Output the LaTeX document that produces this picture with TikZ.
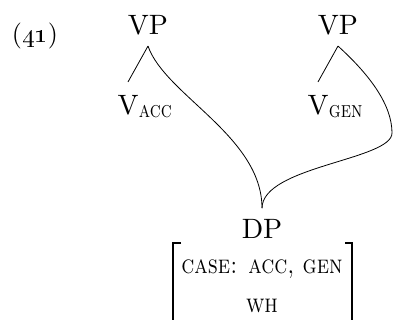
\documentclass[tikz,border=0pt]{standalone}
\usepackage{graphicx}
\newcommand{\catsz}[1]{\scalebox{2.8}{#1}}
\newcommand{\subsz}[1]{\scalebox{1.85}[2.3]{\scshape #1}}
\newcommand{\avmsz}[1]{\scalebox{2.2}[2.6]{\scshape #1}}
\begin{document}
\begin{tikzpicture}[x=1pt,y=-1pt,
  cat/.style={inner sep=0pt},
  sub/.style={inner sep=0pt,anchor=base west},
  avm/.style={inner sep=0pt,anchor=base},
  branch/.style={line width=0.8pt},
  bracket/.style={line width=1.8pt,line join=miter}]
\useasboundingbox (0,0) rectangle (393,320);
\clip (0,0) rectangle (393,320);
\node[inner sep=0pt] (ex) at (35,36) {\scalebox{2.6}{(\oldstylenums{41})}};
\node[cat] (vpL) at (148,25) {\catsz{VP}};
\node[cat] (vpR) at (338,25) {\catsz{VP}};
\node[cat] (vacc) at (128,105) {\catsz{V}};
\node[sub] (acc) at ([yshift=-3pt]vacc.base east) {\subsz{acc}};
\node[cat] (vgen) at (318,105) {\catsz{V}};
\node[sub] (gen) at ([yshift=-3pt]vgen.base east) {\subsz{gen}};
\node[cat] (dp) at (262,229) {\catsz{DP}};
\node[avm] (case) at (262,273) {\avmsz{case: acc, gen}};
\node[avm] (wh) at (262,312) {\avmsz{wh}};
\coordinate (vpLb) at ([yshift=-11pt]vpL.south);
\coordinate (vpRb) at ([yshift=-11pt]vpR.south);
\coordinate (vaccT) at ([yshift=13pt]vacc.north);
\coordinate (vgenT) at ([yshift=13pt]vgen.north);
\coordinate (dpT) at ([yshift=11pt]dp.north);
\coordinate (rmax) at (392,133);
\draw[branch] (vpLb) -- (vaccT);
\draw[branch] (vpRb) -- (vgenT);
\draw[branch] (vpLb) .. controls +(17,49) and +(0,-72) .. (dpT);
\draw[branch] (vpRb) .. controls +(32,29) and +(0,-28) .. (rmax) .. controls +(0,27) and +(0,-42) .. (dpT);
\draw[bracket] (181,243) -- (173,243) -- (173,330);
\draw[bracket] (345,243) -- (352,243) -- (352,330);
\end{tikzpicture}
\end{document}
